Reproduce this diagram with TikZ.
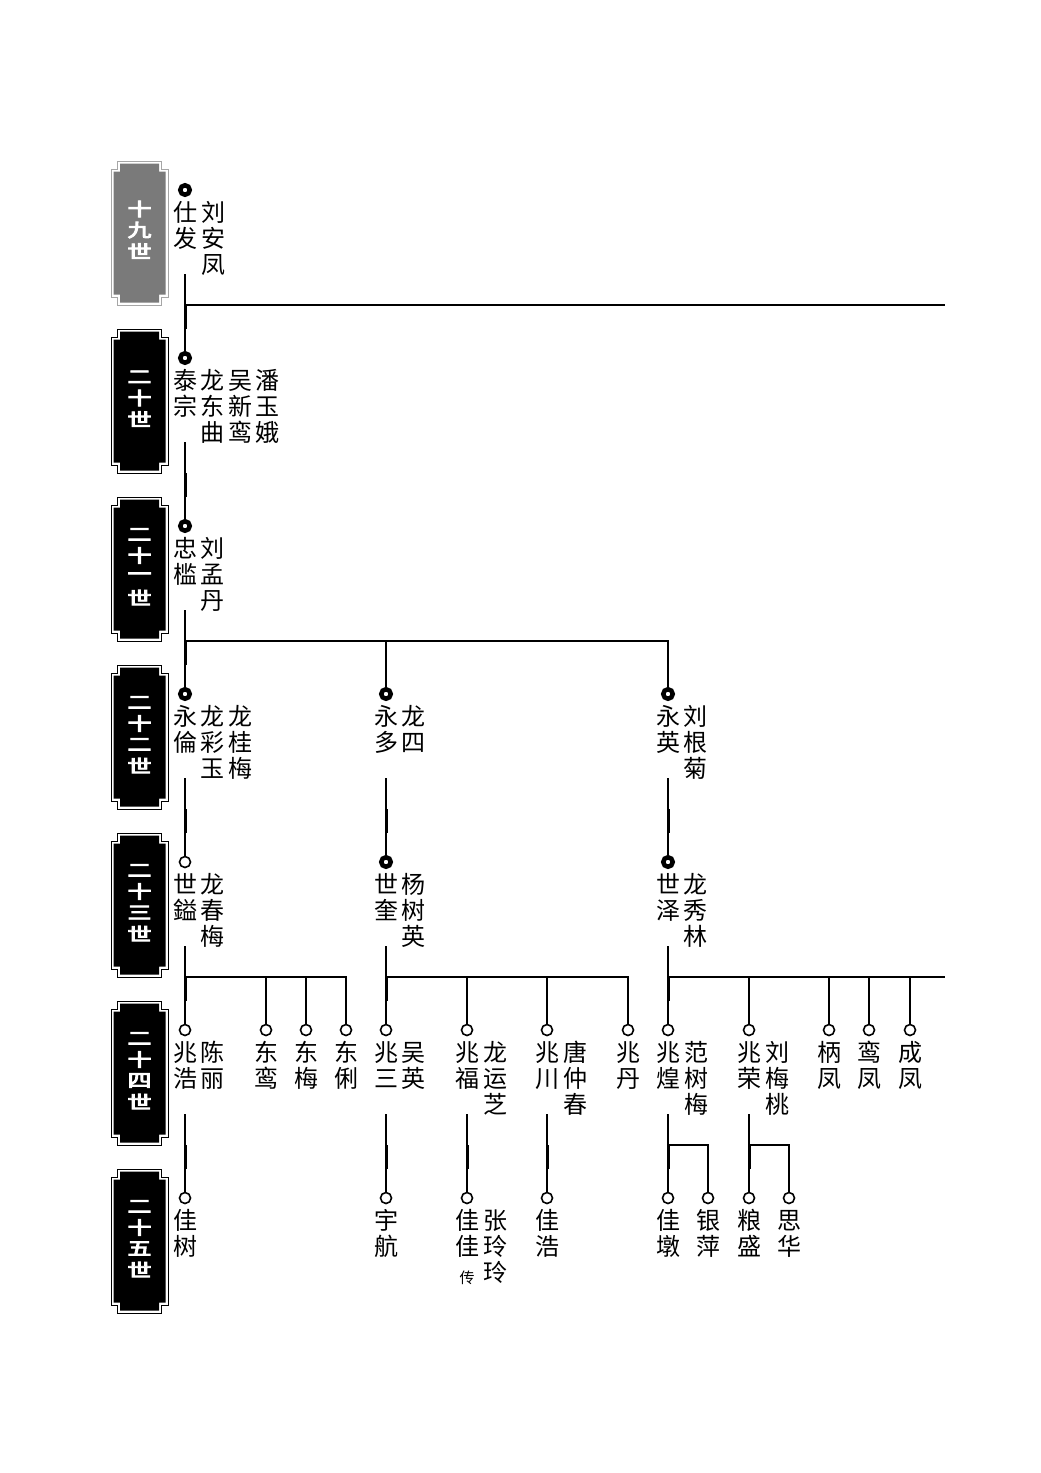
\documentclass[tikz,border=0pt]{standalone}
\usepackage{graphicx}
\usepackage{fontspec}
\newfontfamily\cjk{Noto Sans CJK SC}
\newfontfamily\cjkb[FakeBold=5]{Noto Sans CJK SC}
\tikzset{
  ln/.style={line width=1.4pt},
  thk/.style={line width=3pt},
  bmark/.style={circle, draw, line width=4.5pt, fill=white, minimum size=9.5pt, inner sep=0pt},
  omark/.style={circle, draw, line width=1.6pt, fill=white, minimum size=11pt, inner sep=0pt},
  txt/.style={inner sep=0pt, font=\cjk\fontsize{24}{24}\selectfont, text height=21pt, text depth=3pt},
  btxt/.style={inner sep=0pt, text=white, font=\cjkb\fontsize{25}{25}\selectfont},
  small/.style={inner sep=0pt, font=\cjk\fontsize{15}{15}\selectfont},
  bout/.style={draw=black, line width=1pt},
  bin/.style={fill=black},
  gout/.style={draw=black!35, line width=1pt},
  gin/.style={fill=black!52},
}
% person column: name prefix, x, circle y, list of chars
\newcommand\pcol[4]{%
  \foreach \c [count=\i] in {#4}{\node[txt] (#1-\i) at ({#2},{#3+22+(\i-1)*26.3}) {\c};}}
% badge: name, top y, outer style, inner style, count, chars
\newcommand\badge[6]{%
  \path[#3] (117.5,#2) -- (161.5,#2) -- (161.5,#2+8) -- (168,#2+8) -- (168,#2+136) -- (161.5,#2+136) -- (161.5,#2+144) -- (117.5,#2+144) -- (117.5,#2+136) -- (111,#2+136) -- (111,#2+8) -- (117.5,#2+8) -- cycle;
  \path[#4] (120,#2+2.5) -- (159,#2+2.5) -- (159,#2+10.5) -- (165.5,#2+10.5) -- (165.5,#2+133.5) -- (159,#2+133.5) -- (159,#2+141.5) -- (120,#2+141.5) -- (120,#2+133.5) -- (113.5,#2+133.5) -- (113.5,#2+10.5) -- (120,#2+10.5) -- cycle;
  \foreach \c [count=\i] in {#6}{\node[btxt] (#1-\i) at ({139.5},{#2+69+(\i-#5/2-0.5)*21}) {\scalebox{0.95}[0.72]{\c}};}}
\begin{document}
\begin{tikzpicture}[x=1pt,y=-1pt]
\useasboundingbox (0,0) rectangle (1041,1473);
\fill[white] (0,0) rectangle (1041,1473);

% generation badges
\badge{g19}{161}{gout}{gin}{3}{十,九,世}
\badge{g20}{329}{bout}{bin}{3}{二,十,世}
\badge{g21}{497}{bout}{bin}{4}{二,十,一,世}
\badge{g22}{665}{bout}{bin}{4}{二,十,二,世}
\badge{g23}{833}{bout}{bin}{4}{二,十,三,世}
\badge{g24}{1001}{bout}{bin}{4}{二,十,四,世}
\badge{g25}{1169}{bout}{bin}{4}{二,十,五,世}

% ---------- coordinates for connectors ----------
\coordinate (d19) at (185,274);  \coordinate (b19) at (185,305); \coordinate (t19) at (185,329); \coordinate (e19) at (945,305);
\coordinate (d20) at (185,442);  \coordinate (b20) at (185,473); \coordinate (t20) at (185,497);
\coordinate (d21) at (185,610);  \coordinate (b21) at (185,641); \coordinate (t21) at (185,665);
\coordinate (d22a) at (185,778); \coordinate (b22a) at (185,809); \coordinate (t22a) at (185,833);
\coordinate (d22b) at (386,778); \coordinate (b22b) at (386,809); \coordinate (t22b) at (386,833);
\coordinate (d22c) at (668,778); \coordinate (b22c) at (668,809); \coordinate (t22c) at (668,833);
\coordinate (d23a) at (185,946); \coordinate (b23a) at (185,977); \coordinate (t23a) at (185,1001);
\coordinate (d23b) at (386,946); \coordinate (b23b) at (386,977); \coordinate (t23b) at (386,1001);
\coordinate (d23c) at (668,946); \coordinate (b23c) at (668,977); \coordinate (t23c) at (668,1001); \coordinate (e23c) at (945,977);
\coordinate (d24a) at (185,1114); \coordinate (b24a) at (185,1145); \coordinate (t24a) at (185,1169);
\coordinate (d24e) at (386,1114); \coordinate (b24e) at (386,1145); \coordinate (t24e) at (386,1169);
\coordinate (d24f) at (467,1114); \coordinate (b24f) at (467,1145); \coordinate (t24f) at (467,1169);
\coordinate (d24g) at (547,1114); \coordinate (b24g) at (547,1145); \coordinate (t24g) at (547,1169);
\coordinate (d24i) at (668,1114); \coordinate (b24i) at (668,1145); \coordinate (t24i) at (668,1169);
\coordinate (d24j) at (749,1114); \coordinate (b24j) at (749,1145); \coordinate (t24j) at (749,1169);

% ---------- markers ----------
\node[bmark] (p19) at (185,190) {};
\node[bmark] (p20) at (185,358) {};
\node[bmark] (p21) at (185,526) {};
\node[bmark] (p22a) at (185,694) {};
\node[bmark] (p22b) at (386,694) {};
\node[bmark] (p22c) at (668,694) {};
\node[omark] (p23a) at (185,862) {};
\node[bmark] (p23b) at (386,862) {};
\node[bmark] (p23c) at (668,862) {};
\foreach \n/\x in {p24a/185,p24b/266,p24c/306,p24d/346,p24e/386,p24f/467,p24g/547,p24h/628,p24i/668,p24j/749,p24k/829,p24l/869,p24m/910}
  \node[omark] (\n) at (\x,1030) {};
\foreach \n/\x in {p25a/185,p25b/386,p25c/467,p25d/547,p25e/668,p25f/708,p25g/749,p25h/789}
  \node[omark] (\n) at (\x,1198) {};

% ---------- connectors ----------
\draw[ln] (d19) -- (p20);  \draw[ln] (b19) -- (e19);  \draw[thk] (b19) -- (t19);
\draw[ln] (d20) -- (p21);  \draw[thk] (b20) -- (t20);
\draw[ln] (d21) -- (p22a); \draw[thk] (b21) -- (t21);
\draw[ln] (b21) -| (p22b); \draw[ln] (b21) -| (p22c);
\draw[ln] (d22a) -- (p23a); \draw[thk] (b22a) -- (t22a);
\draw[ln] (d22b) -- (p23b); \draw[thk] (b22b) -- (t22b);
\draw[ln] (d22c) -- (p23c); \draw[thk] (b22c) -- (t22c);
\draw[ln] (d23a) -- (p24a); \draw[thk] (b23a) -- (t23a);
\draw[ln] (b23a) -| (p24b); \draw[ln] (b23a) -| (p24c); \draw[ln] (b23a) -| (p24d);
\draw[ln] (d23b) -- (p24e); \draw[thk] (b23b) -- (t23b);
\draw[ln] (b23b) -| (p24f); \draw[ln] (b23b) -| (p24g); \draw[ln] (b23b) -| (p24h);
\draw[ln] (d23c) -- (p24i); \draw[thk] (b23c) -- (t23c); \draw[ln] (b23c) -- (e23c);
\draw[ln] (b23c) -| (p24j); \draw[ln] (b23c) -| (p24k); \draw[ln] (b23c) -| (p24l); \draw[ln] (b23c) -| (p24m);
\draw[ln] (d24a) -- (p25a); \draw[thk] (b24a) -- (t24a);
\draw[ln] (d24e) -- (p25b); \draw[thk] (b24e) -- (t24e);
\draw[ln] (d24f) -- (p25c); \draw[thk] (b24f) -- (t24f);
\draw[ln] (d24g) -- (p25d); \draw[thk] (b24g) -- (t24g);
\draw[ln] (d24i) -- (p25e); \draw[thk] (b24i) -- (t24i); \draw[ln] (b24i) -| (p25f);
\draw[ln] (d24j) -- (p25g); \draw[thk] (b24j) -- (t24j); \draw[ln] (b24j) -| (p25h);

% ---------- names ----------
\pcol{n19a}{185}{190}{仕,发}
\pcol{n19b}{213}{190}{刘,安,凤}
\pcol{n20a}{185}{358}{泰,宗}
\pcol{n20b}{212.5}{358}{龙,东,曲}
\pcol{n20c}{240}{358}{吴,新,鸾}
\pcol{n20d}{267.5}{358}{潘,玉,娥}
\pcol{n21a}{185}{526}{忠,槛}
\pcol{n21b}{212.5}{526}{刘,孟,丹}
\pcol{n22a}{185}{694}{永,倫}
\pcol{n22b}{212.5}{694}{龙,彩,玉}
\pcol{n22c}{240}{694}{龙,桂,梅}
\pcol{n22d}{386}{694}{永,多}
\pcol{n22e}{413.5}{694}{龙,四}
\pcol{n22f}{668}{694}{永,英}
\pcol{n22g}{695.5}{694}{刘,根,菊}
\pcol{n23a}{185}{862}{世,鎰}
\pcol{n23b}{212.5}{862}{龙,春,梅}
\pcol{n23c}{386}{862}{世,奎}
\pcol{n23d}{413.5}{862}{杨,树,英}
\pcol{n23e}{668}{862}{世,泽}
\pcol{n23f}{695.5}{862}{龙,秀,林}
\pcol{n24a}{185}{1030}{兆,浩}
\pcol{n24b}{212.5}{1030}{陈,丽}
\pcol{n24c}{266}{1030}{东,鸾}
\pcol{n24d}{306}{1030}{东,梅}
\pcol{n24e}{346}{1030}{东,俐}
\pcol{n24f}{386}{1030}{兆,三}
\pcol{n24g}{413.5}{1030}{吴,英}
\pcol{n24h}{467}{1030}{兆,福}
\pcol{n24i}{495}{1030}{龙,运,芝}
\pcol{n24j}{547}{1030}{兆,川}
\pcol{n24k}{575}{1030}{唐,仲,春}
\pcol{n24l}{628}{1030}{兆,丹}
\pcol{n24m}{668}{1030}{兆,煌}
\pcol{n24n}{696}{1030}{范,树,梅}
\pcol{n24o}{749}{1030}{兆,荣}
\pcol{n24p}{777}{1030}{刘,梅,桃}
\pcol{n24q}{829}{1030}{柄,凤}
\pcol{n24r}{869}{1030}{鸾,凤}
\pcol{n24s}{910}{1030}{成,凤}
\pcol{n25a}{185}{1198}{佳,树}
\pcol{n25b}{386}{1198}{宇,航}
\pcol{n25c}{467}{1198}{佳,佳}
\pcol{n25d}{495}{1198}{张,玲,玲}
\pcol{n25e}{547}{1198}{佳,浩}
\pcol{n25f}{668}{1198}{佳,墩}
\pcol{n25g}{708}{1198}{银,萍}
\pcol{n25h}{749}{1198}{粮,盛}
\pcol{n25i}{789}{1198}{思,华}
\node[small] (chuan) at (467,1278) {传};
\end{tikzpicture}
\end{document}
